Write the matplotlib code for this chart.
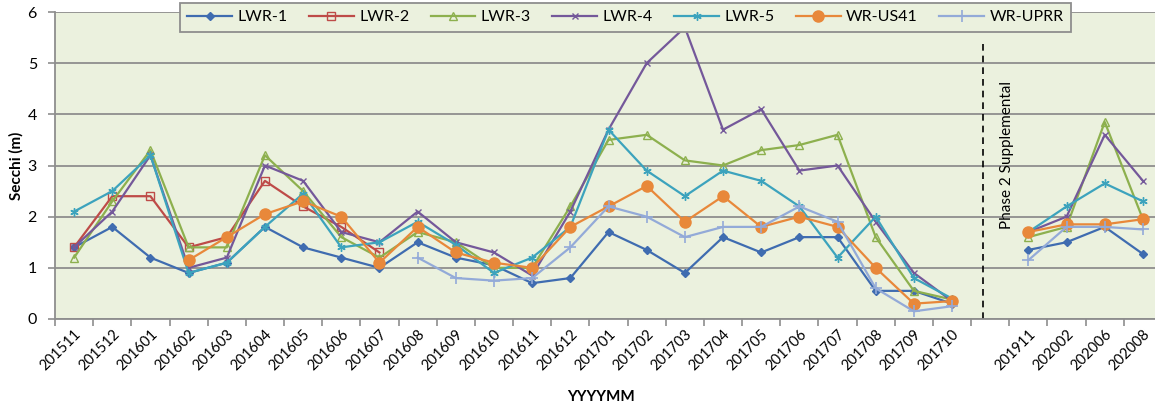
import numpy as np
import matplotlib
matplotlib.use("Agg")
import matplotlib.pyplot as plt

nan = np.nan

months = ['201511', '201512', '201601', '201602', '201603', '201604', '201605',
          '201606', '201607', '201608', '201609', '201610', '201611', '201612',
          '201701', '201702', '201703', '201704', '201705', '201706', '201707',
          '201708', '201709', '201710', '', '201911', '202002', '202006', '202008']

lwr1 = [1.4, 1.8, 1.2, 0.9, 1.1, 1.8, 1.4, 1.2, 1.0, 1.5, 1.2, 1.05, 0.7, 0.8,
        1.7, 1.35, 0.9, 1.6, 1.3, 1.6, 1.6, 0.55, 0.55, 0.3, nan, 1.35, 1.5, 1.8, 1.27]
lwr2 = [1.4, 2.4, 2.4, 1.4, 1.6, 2.7, 2.2, 1.8, 1.3, nan, nan, nan, nan, nan,
        nan, nan, nan, nan, nan, nan, nan, nan, nan, nan, nan, nan, nan, nan, nan]
lwr3 = [1.2, 2.3, 3.3, 1.4, 1.4, 3.2, 2.5, 1.6, 1.2, 1.7, 1.5, 1.0, 1.0, 2.2,
        3.5, 3.6, 3.1, 3.0, 3.3, 3.4, 3.6, 1.6, 0.55, 0.38, nan, 1.6, 1.8, 3.85, 1.95]
lwr4 = [1.4, 2.1, 3.2, 1.0, 1.2, 3.0, 2.7, 1.7, 1.5, 2.1, 1.5, 1.3, 0.85, 2.1,
        3.7, 5.0, 5.7, 3.7, 4.1, 2.9, 3.0, 1.9, 0.9, 0.35, nan, 1.7, 2.0, 3.6, 2.7]
lwr5 = [2.1, 2.5, 3.2, 0.9, 1.1, 1.8, 2.45, 1.4, 1.5, 1.9, 1.45, 0.9, 1.2, 1.8,
        3.7, 2.9, 2.4, 2.9, 2.7, 2.2, 1.2, 2.0, 0.8, 0.4, nan, 1.7, 2.2, 2.65, 2.3]
wr_us41 = [nan, nan, nan, 1.15, 1.6, 2.05, 2.3, 2.0, 1.1, 1.8, 1.3, 1.1, 1.0, 1.8,
           2.2, 2.6, 1.9, 2.4, 1.8, 2.0, 1.8, 1.0, 0.3, 0.35, nan, 1.7, 1.85, 1.85, 1.95]
wr_uprr = [nan, nan, nan, nan, nan, nan, nan, nan, nan, 1.2, 0.8, 0.75, 0.8, 1.4,
           2.2, 2.0, 1.6, 1.8, 1.8, 2.2, 1.9, 0.6, 0.15, 0.25, nan, 1.15, 1.8, 1.8, 1.75]

series = [
    ("LWR-1", lwr1, dict(color="#3F6CB0", marker="D", markersize=3.6,
                         markerfacecolor="#3F6CB0")),
    ("LWR-2", lwr2, dict(color="#BE4B48", marker="s", markersize=5.5,
                         markerfacecolor="none", markeredgewidth=1.0)),
    ("LWR-3", lwr3, dict(color="#8DB04E", marker="^", markersize=5.5,
                         markerfacecolor="none", markeredgewidth=1.0)),
    ("LWR-4", lwr4, dict(color="#74589A", marker="x", markersize=5,
                         markeredgewidth=1.0)),
    ("LWR-5", lwr5, dict(color="#3CA3BD", marker=(6, 2, 0), markersize=6,
                         markeredgewidth=1.0)),
    ("WR-US41", wr_us41, dict(color="#E8883A", marker="o", markersize=8,
                              markerfacecolor="#E8883A")),
    ("WR-UPRR", wr_uprr, dict(color="#93AAD8", marker="+", markersize=8,
                              markeredgewidth=1.2)),
]

W, H, DPI = 1155, 409, 100
fig = plt.figure(figsize=(W / DPI, H / DPI), dpi=DPI)
fig.patch.set_facecolor("white")

left_px, right_px, top_px, bottom_px = 55, 1162, 12, 319
ax = fig.add_axes([left_px / W, 1 - bottom_px / H,
                   (right_px - left_px) / W, (bottom_px - top_px) / H])
ax.set_facecolor("#EBF1DE")

x = np.arange(len(months))
for name, vals, style in series:
    ax.plot(x, vals, label=name, linewidth=1.6, zorder=3, **style)

ax.set_xlim(-0.5, len(months) - 0.5)
ax.set_ylim(0, 6)
ax.set_yticks(range(0, 7))
ax.grid(axis="y", color="#8E8E8E", linewidth=1.3, zorder=1)
ax.set_axisbelow(True)

# category boundaries carry the tick marks, labels sit at the centres
ax.set_xticks(np.arange(-0.5, len(months), 1.0))
ax.set_xticklabels([])
ax.set_xticks(x, minor=True)
ax.set_xticklabels(months, minor=True, rotation=45, ha="right", va="top",
                   rotation_mode="anchor", fontsize=10.5, family="Lato")
ax.tick_params(axis="x", which="major", direction="out", length=5,
               color="#8E8E8E", width=1.2)
ax.tick_params(axis="x", which="minor", length=0, pad=6)
ax.tick_params(axis="y", direction="out", length=5, color="#8E8E8E",
               width=1.2, labelsize=11.5, pad=8)
for lab in ax.get_yticklabels():
    lab.set_family("Lato")

for side in ("left", "bottom"):
    ax.spines[side].set_color("#8E8E8E")
    ax.spines[side].set_linewidth(1.3)
for side in ("top", "right"):
    ax.spines[side].set_visible(False)

ax.set_ylabel("Secchi (m)", fontsize=11, fontweight="bold", family="Lato")
ax.yaxis.set_label_coords((24 - left_px) / (right_px - left_px), 0.5)
fig.text(601 / W, 1 - 397 / H, "YYYYMM", fontsize=11, fontweight="bold",
         family="Lato", ha="center", va="center")

# phase divider
ax.plot([23.82, 23.82], [0, 5.45], color="black", linewidth=1.2,
        linestyle=(0, (4, 3)), zorder=2)
ax.text(24.44, 3.2, "Phase 2 Supplemental", rotation=90, ha="center",
        va="center", fontsize=11, family="Lato")

leg = fig.legend(loc="upper left", bbox_to_anchor=(180 / W, 1 - 3 / H),
                 ncol=7, frameon=True, fancybox=False,
                 prop={"family": "Lato", "size": 11.5},
                 handlelength=2.8, handletextpad=0.35, columnspacing=1.33,
                 borderpad=0.45, numpoints=1, borderaxespad=0)
leg.get_frame().set_facecolor("#EBF1DE")
leg.get_frame().set_edgecolor("#8E8E8E")
leg.get_frame().set_linewidth(1.3)
leg.get_frame().set_alpha(1)
leg.set_zorder(10)

fig.savefig("out.png", dpi=DPI)
